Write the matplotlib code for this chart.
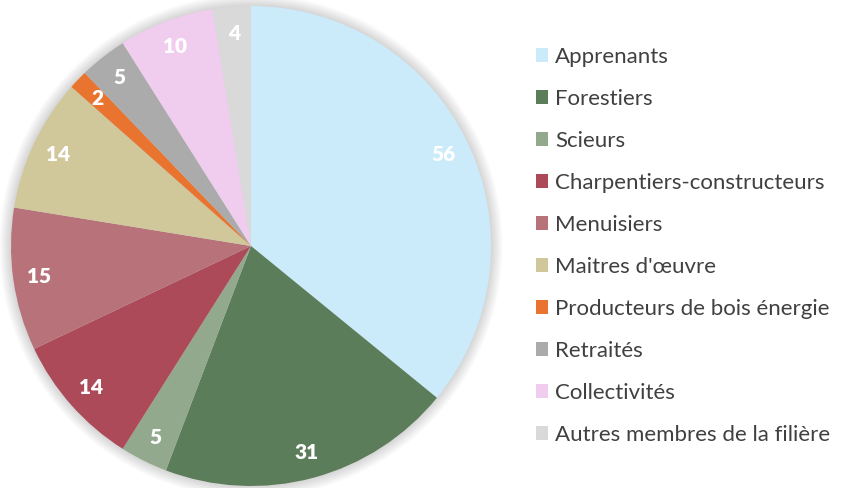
import matplotlib
matplotlib.use("Agg")
import matplotlib.pyplot as plt
from matplotlib.patches import Patch, Circle

# donnees du camembert
categories = ["Apprenants", "Forestiers", "Scieurs", "Charpentiers-constructeurs",
              "Menuisiers", "Maitres d'\u0153uvre", "Producteurs de bois \u00e9nergie",
              "Retrait\u00e9s", "Collectivit\u00e9s", "Autres membres de la fili\u00e8re"]
valeurs = [56, 31, 5, 14, 15, 14, 2, 5, 10, 4]
couleurs = ["#CBEBFA", "#5C7D59", "#93A98E", "#AD4A5A", "#B7727A",
            "#D0C79A", "#E87430", "#ABABAB", "#F0CCEE", "#D9D9D9"]

plt.rcParams['font.family'] = ['Lato', 'DejaVu Sans']

fig = plt.figure(figsize=(8.52, 4.88), dpi=100)
ax = fig.add_axes([11/852, 2/488, 480/852, 480/488])

# ombre douce autour du disque
for i in range(8):
    ax.add_patch(Circle((0, 0), 1 + 0.006*(i+1), color="#000000", alpha=0.02,
                        lw=0, zorder=0, clip_on=False))

wedges, texts = ax.pie(valeurs, colors=couleurs, startangle=90, counterclock=False,
                       labels=[str(v) for v in valeurs], labeldistance=0.89,
                       wedgeprops=dict(linewidth=0))
for t in texts:
    t.set_color("white")
    t.set_fontsize(15)
    t.set_fontweight("heavy")
    t.set_ha("center")
    t.set_va("center")
ax.set_xlim(-1, 1)
ax.set_ylim(-1, 1)
ax.set_aspect("equal")
ax.axis("off")

handles = [Patch(facecolor=c, edgecolor="none") for c in couleurs]
leg = fig.legend(handles, categories, loc="upper left", bbox_to_anchor=(536/852, 1 - 47/488),
                 frameon=False, fontsize=16, handlelength=0.55, handleheight=0.55,
                 handletextpad=0.3, labelspacing=0.99, labelcolor="#404040",
                 borderpad=0, borderaxespad=0)

fig.savefig("out.png", dpi=100)
